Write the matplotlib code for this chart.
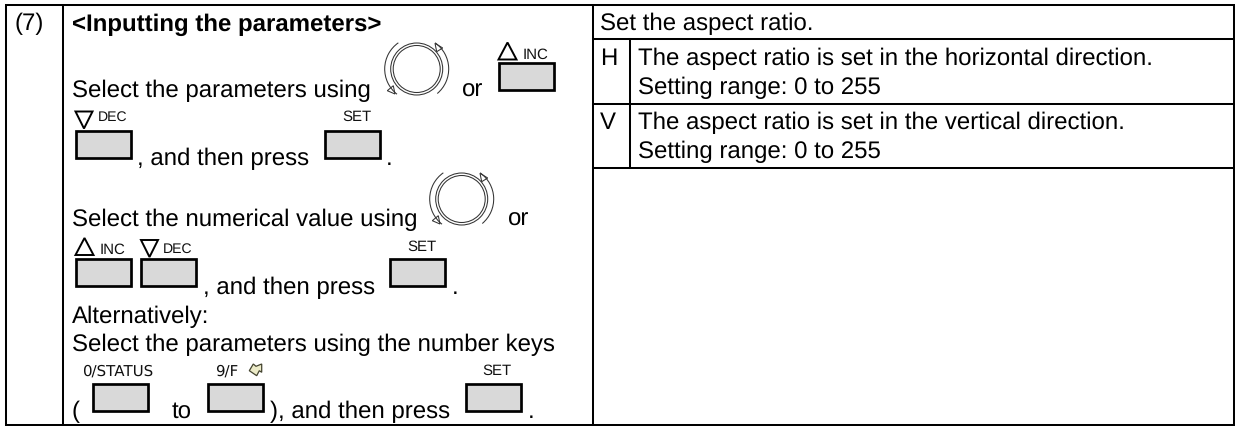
import matplotlib
matplotlib.use("Agg")
import matplotlib.pyplot as plt
from matplotlib.patches import Rectangle, Circle, Arc, Polygon

plt.rcParams['font.family'] = ['Liberation Sans', 'DejaVu Sans']
plt.rcParams['text.hinting'] = 'no_hinting'
plt.rcParams['text.hinting_factor'] = 1

W, H = 1235, 427
fig = plt.figure(figsize=(W / 100, H / 100), dpi=100, facecolor='white')
ax = fig.add_axes([0, 0, 1, 1])
ax.set_xlim(0, W)
ax.set_ylim(H, 0)
ax.axis('off')

# ---- text content ----
step_label = "(7)"
heading = "<Inputting the parameters>"
left_texts = [
    ("Select the parameters using", 72, 97),
    ("or", 462, 97),
    (", and then press", 137, 165),
    (".", 386, 165),
    ("Select the numerical value using", 72, 226),
    ("or", 508, 226),
    (", and then press", 203, 294),
    (".", 452, 294),
    ("Alternatively:", 72, 323.5),
    ("Select the parameters using the number keys", 72, 351),
    ("(", 72, 418),
    ("to", 172, 418),
    ("), and then press", 270, 418),
    (".", 528, 418),
]
right_texts = [
    ("Set the aspect ratio.", 600, 30),
    ("H", 600, 65),
    ("The aspect ratio is set in the horizontal direction.", 638, 65),
    ("Setting range: 0 to 255", 638, 94),
    ("V", 600, 129),
    ("The aspect ratio is set in the vertical direction.", 638, 129),
    ("Setting range: 0 to 255", 638, 158.5),
]
button_boxes = [
    (498, 63), (75, 131), (324, 131),
    (75, 259), (140, 259), (389, 259),
    (92, 384), (207, 384), (465, 384),
]
key_labels = [
    ("INC", 523, 55, 10.6, 'Liberation Sans'), ("DEC", 97.5, 117.5, 10.3, 'Liberation Sans'),
    ("SET", 342, 117, 10.8, 'Liberation Sans'),
    ("INC", 100, 250, 10.6, 'Liberation Sans'), ("DEC", 163, 249, 10.3, 'Liberation Sans'),
    ("SET", 407, 247, 10.8, 'Liberation Sans'),
    ("0/STATUS", 82, 371, 10.6, 'DejaVu Sans'), ("9/F", 215, 371, 10.6, 'DejaVu Sans'),
    ("SET", 482, 371, 10.8, 'Liberation Sans'),
]
up_triangles = [(498.5, 43.5), (75.5, 239)]
down_triangles = [(75.5, 112.5), (141, 241)]
knob_centers = [(416.7, 70), (461.7, 200)]

FS = 17.13
LW = 1.45

# ---- table rules ----
def rule(x0, y0, x1, y1):
    ax.plot([x0, x1], [y0, y1], color='black', lw=LW, solid_capstyle='projecting')

ax.add_patch(Rectangle((5.5, 5.5), 1228, 420.5, fill=False, ec='black', lw=LW))
rule(63, 5.5, 63, 426)
rule(593, 5.5, 593, 426)
rule(593, 40, 1233.5, 40)
rule(593, 104.5, 1233.5, 104.5)
rule(593, 168.5, 1233.5, 168.5)
rule(630, 40, 630, 168.5)

# ---- text ----
def txt(s, x, y, size=FS, weight='normal'):
    ax.text(x, y, s, fontsize=size, fontweight=weight, color='black',
            ha='left', va='baseline')

txt(step_label, 15, 30.5)
txt(heading, 72, 30.5, weight='bold')
for s, x, y in left_texts + right_texts:
    txt(s, x, y)

# ---- key graphics ----
for x, y in button_boxes:
    ax.add_patch(Rectangle((x + 1.3, y + 1), 54.6, 27.3, fc='#d9d9d9', ec='black', lw=1.95, zorder=3))
for s, x, y, size, fam in key_labels:
    ax.text(x, y, s, fontsize=size, family=fam, color='#111111', ha='left', va='center')
for x, y in up_triangles:
    ax.add_patch(Polygon([(x, y + 17), (x + 18, y + 17), (x + 9, y)], fill=False, ec='black', lw=1.4))
for x, y in down_triangles:
    ax.add_patch(Polygon([(x, y), (x + 17, y), (x + 8.5, y + 17)], fill=False, ec='black', lw=1.4))

# ---- rotary knobs ----
for cx, cy in knob_centers:
    ax.add_patch(Circle((cx, cy), 26, fill=False, ec='#333333', lw=0.75))
    ax.add_patch(Circle((cx, cy), 23.5, fill=False, ec='#333333', lw=0.75))
    ax.add_patch(Arc((cx, cy), 64, 64, theta1=-55, theta2=50, ec='#333333', lw=0.75))
    ax.add_patch(Arc((cx, cy), 64, 64, theta1=128, theta2=235, ec='#333333', lw=0.75))
    ax.add_patch(Polygon([(cx + 18.3, cy - 25.7), (cx + 26, cy - 21), (cx + 20, cy - 17.3)],
                         fill=False, ec='#333333', lw=0.75))
    ax.add_patch(Polygon([(cx - 29.4, cy + 21.7), (cx - 21.7, cy + 25), (cx - 23.4, cy + 16.7)],
                         fill=False, ec='#333333', lw=0.75))

# ---- pointer icon ----
ax.add_patch(Polygon([(249.3, 371.7), (253.3, 365), (256, 367.3), (261.7, 365), (261.7, 373.3),
                      (259.3, 371.7), (256.7, 376.7)], fc='#ecebc8', ec='#444430', lw=0.9))

fig.savefig('out.png', dpi=100, facecolor='white')
